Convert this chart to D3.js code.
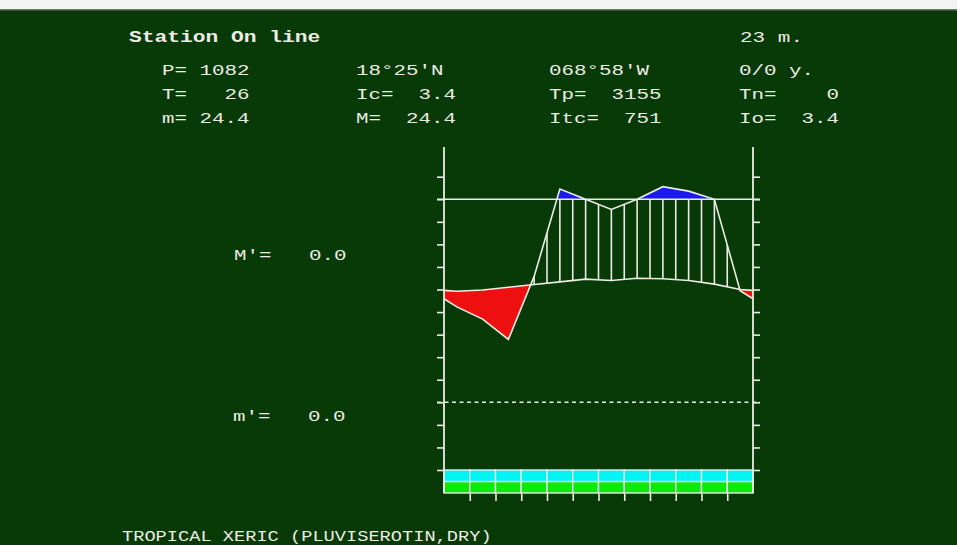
<!DOCTYPE html>
<html><head><meta charset="utf-8">
<script src="https://cdn.jsdelivr.net/npm/d3@7"></script>
<style>html,body{margin:0;padding:0;background:#073a07;overflow:hidden}</style>
</head><body><svg id="c" width="957" height="545"></svg>
<script>
// ---------- DATA ----------
const months = ["Jan","Feb","Mar","Apr","May","Jun","Jul","Aug","Sep","Oct","Nov","Dec"];
const temperature = [24.6, 24.9, 25.5, 26.1, 26.7, 27.3, 27.0, 27.5, 27.4, 27.0, 26.2, 25.0]; // °C
const precipitation = [47, 41, 31, 62, 150, 100, 95, 100, 162, 140, 100, 55];             // mm
const tempTicks = [-15, -10, -5, 0, 5, 10, 15, 20, 25, 30, 35, 40, 45, 50];
const title = "Station On line";
const altitude = "23 m.";
const headerRows = [
  ["P= 1082", "18°25'N", "068°58'W", "0/0 y."],
  ["T=   26", "Ic=  3.4", "Tp=  3155", "Tn=    0"],
  ["m= 24.4", "M=  24.4", "Itc=  751", "Io=  3.4"]
];
const extremeLabels = ["M'=   0.0", "m'=   0.0"];
const classification = "TROPICAL XERIC (PLUVISEROTIN,DRY)";

// ---------- LAYOUT ----------
const svg = d3.select("#c");
const W = 957, H = 545;
const FG = "#ecece4";
svg.append("rect").attr("width", W).attr("height", H).attr("fill", "#073a07");
svg.append("rect").attr("width", W).attr("height", 9).attr("fill", "#f3f3f3");
svg.append("rect").attr("y", 9).attr("width", W).attr("height", 1.5).attr("fill", "#6a7a6a");

const x = d3.scaleLinear().domain([0, 12]).range([444, 753]);
const y = d3.scaleLinear().domain([-15, 50]).range([470, 176.7]);
const axisTop = 147, axisBottom = 493;
const barMid = 481.6;

// precipitation -> diagram units (°C equivalent); compressed above 100 mm
const pToDiag = p => p <= 100 ? p * 0.45 : 45 + (p - 100) * 0.045;
const pDiag = precipitation.map(pToDiag);
const wetLevel = pToDiag(100);

function interp(vals, t) {
  const u = t - 0.5;
  const i0 = Math.floor(u);
  const f = u - i0;
  const a = vals[(i0 + 12) % 12], b = vals[(i0 + 13) % 12];
  return a + (b - a) * f;
}
const fine = d3.range(0, 12.0001, 0.01).map(t => ({t, T: interp(temperature, t), P: interp(pDiag, t)}));
const knots = [0, ...months.map((m, i) => i + 0.5), 12].map(t => ({t, T: interp(temperature, t), P: interp(pDiag, t)}));

// red (dry) area
svg.append("path")
  .attr("d", d3.area().x(d => x(d.t)).y0(d => y(d.T)).y1(d => y(Math.min(d.P, d.T)))(fine))
  .attr("fill", "#ee1010");
// blue (>100 mm) area
svg.append("path")
  .attr("d", d3.area().x(d => x(d.t)).y0(() => y(wetLevel)).y1(d => y(Math.max(d.P, wetLevel)))(fine))
  .attr("fill", "#1a1aee");

// hatching of humid period
const halfSteps = d3.range(0, 12.001, 0.5).map(t => ({t, T: interp(temperature, t), P: interp(pDiag, t)}))
  .filter(d => d.P > d.T);
svg.append("g").selectAll("line").data(halfSteps).join("line")
  .attr("x1", d => x(d.t)).attr("x2", d => x(d.t))
  .attr("y1", d => y(d.T)).attr("y2", d => y(Math.min(d.P, wetLevel)))
  .attr("stroke", FG).attr("stroke-width", 1.6);

// reference lines (100 mm solid, 0 °C dashed)
svg.append("line").attr("x1", x(0) - 7).attr("x2", x(12) + 7)
  .attr("y1", y(wetLevel)).attr("y2", y(wetLevel)).attr("stroke", FG).attr("stroke-width", 1.6);
svg.append("line").attr("x1", x(0) - 7).attr("x2", x(12) + 7)
  .attr("y1", y(0)).attr("y2", y(0)).attr("stroke", FG).attr("stroke-width", 1.6)
  .attr("stroke-dasharray", "4,3.5");

// curves
const line = d3.line().x(d => x(d.t));
svg.append("path").attr("d", line.y(d => y(d.T))(knots))
  .attr("fill", "none").attr("stroke", FG).attr("stroke-width", 1.6);
svg.append("path").attr("d", line.y(d => y(d.P))(knots))
  .attr("fill", "none").attr("stroke", FG).attr("stroke-width", 1.6);

// monthly bands (cyan / green)
const band = svg.append("g");
band.selectAll("rect.c").data(months).join("rect").attr("class", "c")
  .attr("x", (d, i) => x(i)).attr("width", x(1) - x(0))
  .attr("y", y(-15)).attr("height", barMid - y(-15))
  .attr("fill", "#00f4f4").attr("stroke", FG).attr("stroke-width", 1.4);
band.selectAll("rect.g").data(months).join("rect").attr("class", "g")
  .attr("x", (d, i) => x(i)).attr("width", x(1) - x(0))
  .attr("y", barMid).attr("height", axisBottom - barMid)
  .attr("fill", "#08ec08").attr("stroke", FG).attr("stroke-width", 1.4);

// axes
function styleAxis(g) {
  g.select(".domain").remove();
  g.selectAll(".tick line").attr("stroke", FG).attr("stroke-width", 1.6);
  g.selectAll("text").remove();
}
svg.append("g").attr("transform", `translate(${x(0)},0)`)
  .call(d3.axisLeft(y).tickValues(tempTicks).tickSize(7).tickFormat("")).call(styleAxis);
svg.append("g").attr("transform", `translate(${x(12)},0)`)
  .call(d3.axisRight(y).tickValues(tempTicks).tickSize(7).tickFormat("")).call(styleAxis);
svg.append("g").attr("transform", `translate(0,${axisBottom + 1})`)
  .call(d3.axisBottom(x).tickValues(d3.range(1, 12)).tickSize(7).tickFormat("")).call(styleAxis);
[x(0), x(12)].forEach(xx => svg.append("line").attr("x1", xx).attr("x2", xx)
  .attr("y1", axisTop).attr("y2", axisBottom).attr("stroke", FG).attr("stroke-width", 1.8));

// ---------- TEXT ----------
function txt(s, tx, ty, size, adv, bold) {
  svg.append("text").attr("x", tx).attr("y", ty).text(s)
    .attr("font-family", "'Liberation Mono', 'DejaVu Sans Mono', monospace")
    .attr("font-size", size).attr("font-weight", bold ? "bold" : "normal")
    .attr("fill", FG).attr("xml:space", "preserve").style("white-space", "pre")
    .attr("textLength", s.length * adv).attr("lengthAdjust", "spacingAndGlyphs");
}
txt(title, 129, 42, 17, 12.75, true);
txt(altitude, 740, 42, 15, 12.6, false);
const colX = [162, 356, 549, 739];
const rowY = [75, 98.5, 122.5];
headerRows.forEach((row, r) => row.forEach((s, c) => txt(s, colX[c], rowY[r], 15, 12.5, false)));
txt(extremeLabels[0], 234, 260, 15, 12.5, false);
txt(extremeLabels[1], 233, 420.5, 15, 12.5, false);
txt(classification, 122, 541, 15, 11.2, false);
</script></body></html>
